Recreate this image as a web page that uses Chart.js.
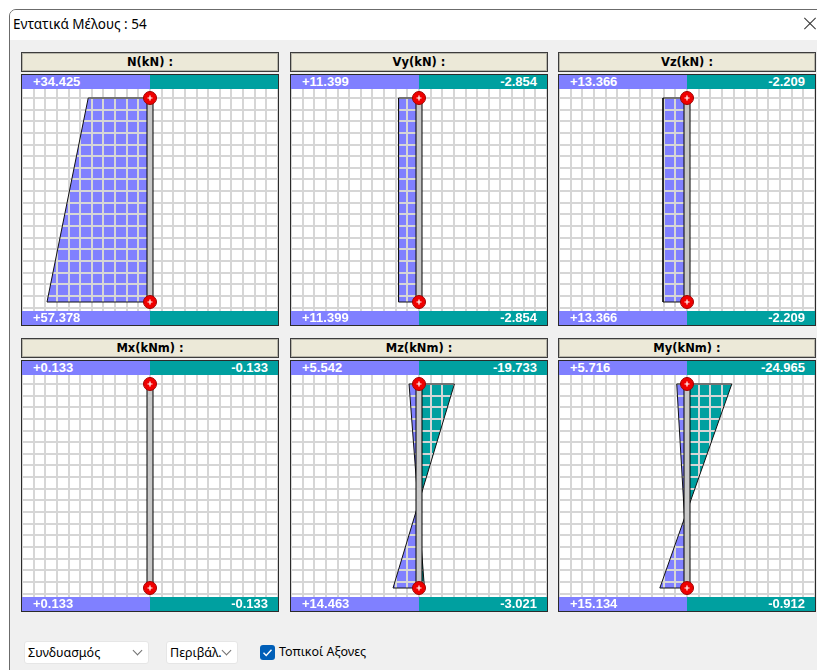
<!DOCTYPE html>
<html>
<head>
<meta charset="utf-8">
<script src="https://cdn.jsdelivr.net/npm/chart.js@4.4.1/dist/chart.umd.min.js"></script>
<style>
    body { margin: 0; width: 817px; height: 670px; background: #fff; overflow: hidden; position: relative; font-family: "Noto Sans", sans-serif; }
    .window { position: absolute; left: 9px; top: 9px; width: 830px; height: 680px; border: 1px solid #6b6b6b; border-top-left-radius: 7px; background: #f0f0f0; overflow: hidden; }
    .caption { height: 30px; background: #fff; font-size: 13.5px; line-height: 28px; padding-left: 3px; color: #000; }
    .close { position: absolute; left: 802px; top: 23px; width: 16px; height: 1px; background: #333; }
    .ptitle { position: absolute; width: 258px; height: 20px; box-sizing: border-box; border: 1px solid #3c3c3c; box-shadow: inset 0 0 0 1px #b8b6aa; background: #ece9d8;
              font: bold 11.5px "DejaVu Sans", sans-serif; text-align: center; line-height: 18px; color: #000; }
    .pbox { position: absolute; width: 258px; height: 252px; box-sizing: border-box; border: 1px solid #2b2b2b; background: #fff; }
    .bar { display: flex; height: 14px; font: bold 13px "Liberation Sans", sans-serif; line-height: 14px; color: #fff; }
    .bar .pos { width: 128px; background: #8080ff; padding-left: 11px; box-sizing: border-box; }
    .bar .neg { width: 128px; background: #00a0a0; padding-right: 10px; box-sizing: border-box; text-align: right; }
    canvas { display: block; }
    .combo { position: absolute; top: 641px; height: 23px; box-sizing: border-box; background: #fff; border: 1px solid #e6e6e6; border-radius: 3px;
             font-size: 12.5px; line-height: 21px; padding-left: 3px; color: #000; }
    .chev { position: absolute; top: 5px; width: 6px; height: 6px; border-right: 1px solid #707070; border-bottom: 1px solid #707070; transform: rotate(45deg); }
    .check { position: absolute; left: 260px; top: 645px; }
    .clabel { position: absolute; left: 279px; top: 641px; font-size: 12.5px; line-height: 21px; color: #000; }
</style>
</head>
<body>
<div class="window"><div class="caption">Εντατικά Μέλους : 54</div></div>
<div class="close" style="transform: rotate(45deg)"></div>
<div class="close" style="transform: rotate(-45deg)"></div>
<div id="panels"></div>
<div class="combo" style="left:24px; width:125px;">Συνδυασμός<div class="chev" style="left:109px"></div></div>
<div class="combo" style="left:166px; width:72px;">Περιβάλ.<div class="chev" style="left:56px"></div></div>
<svg class="check" width="15" height="15" viewBox="0 0 15 15">
    <rect x="0" y="0" width="15" height="15" rx="3" fill="#005fb8"/>
    <path d="M3.5 7.8 L6.2 10.4 L11.5 4.8" stroke="#fff" stroke-width="1.4" fill="none"/>
</svg>
<div class="clabel">Τοπικοί Αξονες</div>

<script>
const panelTitles = ["N(kN) :", "Vy(kN) :", "Vz(kN) :", "Mx(kNm) :", "Mz(kNm) :", "My(kNm) :"];

// envelope values shown in the coloured bars (top node / bottom node)
const maxTop    = [34.425, 11.399, 13.366, 0.133, 5.542, 5.716];
const minTop    = [null, -2.854, -2.209, -0.133, -19.733, -24.965];
const maxBottom = [57.378, 11.399, 13.366, 0.133, 14.463, 15.134];
const minBottom = [null, -2.854, -2.209, -0.133, -3.021, -0.912];

// diagram lines along the member: [value at top node, value at bottom node]
const diagramA = [[34.425, 57.378], [11.399, 11.399], [13.366, 13.366], [0.133, -0.133], [5.542, -3.021], [5.716, -0.912]];
const diagramB = [null, null, null, null, [-19.733, 14.463], [-24.965, 15.134]];

// member nodes, as position along the member (0 = top, 1 = bottom)
const memberNodes = [0, 1];

const PURPLE = "#8080ff";
const TEAL = "#00a0a0";

const CANVAS_W = 256, CANVAS_H = 222;
const PX_PER_UNIT = 1.795;          // same drawing scale in every panel
const NODE_INSET = 9;               // px between plot edge and node
const CELL = 11.64;                 // grid cell, px

const X_HALF = (CANVAS_W / 2) / PX_PER_UNIT;
const MEMBER_PX = CANVAS_H - 2 * NODE_INSET;
const Y_MIN = -NODE_INSET / MEMBER_PX;
const Y_MAX = 1 + NODE_INSET / MEMBER_PX;

const panelLeft = [21, 290, 558];
const panelTop = [52, 338];

function fmt(v) {
    if (v === null) return "";
    return (v > 0 ? "+" : "") + v.toFixed(3);
}

const gridOnTop = {
    id: "gridOnTop",
    beforeDatasetsDraw(chart) { chart.$gridDone = false; },
    beforeDatasetDraw(chart, args) {
        if (chart.$gridDone || chart.data.datasets[args.index].role !== "outline") return;
        chart.scales.x.drawGrid(chart.chartArea);
        chart.scales.y.drawGrid(chart.chartArea);
        chart.$gridDone = true;
    }
};

function fillSet(points, sign) {
    return {
        data: points, showLine: true, fill: "shape",
        backgroundColor: sign >= 0 ? PURPLE : TEAL,
        borderWidth: 0, pointRadius: 0, order: 5
    };
}

function outlineSet(line) {
    return {
        role: "outline",
        data: [{ x: 0, y: 0 }, { x: line[0], y: 0 }, { x: line[1], y: 1 }, { x: 0, y: 1 }],
        showLine: true, fill: false, borderColor: "#111", borderWidth: 1, pointRadius: 0, order: 4
    };
}

function addDiagram(fills, outlines, line) {
    if (!line) return;
    const [v0, v1] = line;
    if (v0 * v1 < 0) {
        const t0 = v0 / (v0 - v1);
        fills.push(fillSet([{ x: 0, y: 0 }, { x: v0, y: 0 }, { x: 0, y: t0 }], v0));
        fills.push(fillSet([{ x: 0, y: t0 }, { x: v1, y: 1 }, { x: 0, y: 1 }], v1));
    } else {
        fills.push(fillSet([{ x: 0, y: 0 }, { x: v0, y: 0 }, { x: v1, y: 1 }, { x: 0, y: 1 }], v0 + v1));
    }
    outlines.push(outlineSet(line));
}

function gridScale(min, max, ticks, reverse) {
    return {
        type: "linear", min, max, reverse,
        ticks: { display: false },
        border: { display: false },
        grid: { color: "#d6d6d6", lineWidth: 2, drawTicks: false },
        afterBuildTicks: s => { s.ticks = ticks.map(v => ({ value: v })); }
    };
}

const xTicks = [];
for (let k = -11; k <= 11; k++) xTicks.push(k * X_HALF / 11);
const yStep = CELL / MEMBER_PX;
const yTicks = [];
for (let k = -1; k * yStep <= Y_MAX; k++) if (k * yStep >= Y_MIN) yTicks.push(k * yStep);

function renderPanel(i) {
    const left = panelLeft[i % 3];
    const top = panelTop[Math.floor(i / 3)];
    const host = document.getElementById("panels");

    const title = document.createElement("div");
    title.className = "ptitle";
    title.style.left = left + "px";
    title.style.top = top + "px";
    title.textContent = panelTitles[i];
    host.appendChild(title);

    const box = document.createElement("div");
    box.className = "pbox";
    box.style.left = left + "px";
    box.style.top = (top + 22) + "px";
    box.innerHTML = `
        <div class="bar"><div class="pos">${fmt(maxTop[i])}</div><div class="neg">${fmt(minTop[i])}</div></div>
        <canvas width="${CANVAS_W}" height="${CANVAS_H}"></canvas>
        <div class="bar"><div class="pos">${fmt(maxBottom[i])}</div><div class="neg">${fmt(minBottom[i])}</div></div>
    `;
    host.appendChild(box);

    const fills = [], outlines = [];
    addDiagram(fills, outlines, diagramA[i]);
    addDiagram(fills, outlines, diagramB[i]);

    const nodes = memberNodes.map(t => ({ x: 0, y: t }));

    const datasets = [
        ...fills,
        ...outlines,
        { data: nodes, showLine: true, borderColor: "#000", borderWidth: 7, pointRadius: 0, order: 3 },
        { data: nodes, showLine: true, borderColor: "#c8c8c8", borderWidth: 5, pointRadius: 0, order: 2 },
        { data: nodes, showLine: false, pointRadius: 6.5, pointBackgroundColor: "#f00000", pointBorderColor: "#a00000", pointBorderWidth: 1, order: 1 },
        { data: nodes, showLine: false, pointStyle: "cross", pointRadius: 2.5, pointBorderColor: "#fff", pointBorderWidth: 1.2, order: 0 }
    ];

    new Chart(box.querySelector("canvas"), {
        type: "scatter",
        data: { datasets },
        options: {
            responsive: false,
            animation: false,
            events: [],
            layout: { padding: 0, autoPadding: false },
            plugins: { legend: { display: false }, tooltip: { enabled: false } },
            scales: {
                x: gridScale(-X_HALF, X_HALF, xTicks, true),
                y: gridScale(Y_MIN, Y_MAX, yTicks, true)
            }
        },
        plugins: [gridOnTop]
    });
}

panelTitles.forEach((t, i) => renderPanel(i));
</script>
</body>
</html>
